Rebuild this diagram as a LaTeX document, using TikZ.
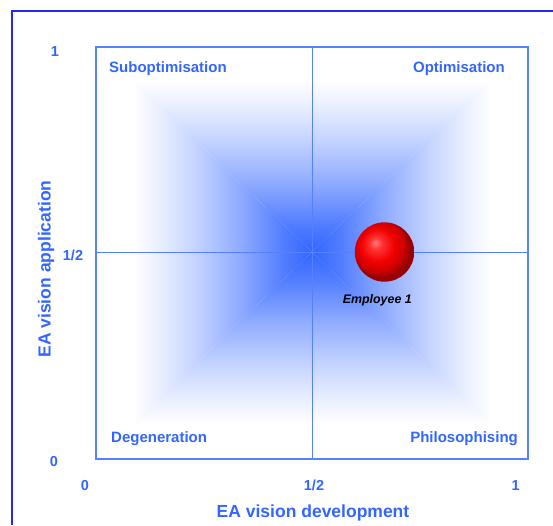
\documentclass[tikz,border=0pt]{standalone}
\usepackage{fontspec}
\setmainfont{Liberation Sans}
\usepackage{tikz}

\definecolor{eablue}{RGB}{51,102,255}
\definecolor{ealine}{RGB}{85,128,255}
\definecolor{eaframe}{RGB}{40,40,235}

\pgfdeclareverticalshading{eafade}{100bp}{color(0bp)=(eablue); color(25bp)=(eablue);
  color(33bp)=(eablue!85!white); color(45bp)=(eablue!55!white); color(58bp)=(eablue!28!white);
  color(68bp)=(eablue!10!white); color(75bp)=(white); color(100bp)=(white)}
\pgfdeclareradialshading{redball}{\pgfpoint{-8bp}{8bp}}{color(0bp)=(red!50!white);
  color(5bp)=(red!80!white); color(14bp)=(red!95!black); color(21bp)=(red!80!black);
  color(25bp)=(red!60!black); color(50bp)=(red!60!black)}

\begin{document}
\begin{tikzpicture}[x=1pt,y=1pt,inner sep=0pt,
  quad/.style={text=eablue,font=\fontsize{15}{18}\selectfont\bfseries},
  tick/.style={text=eablue,font=\fontsize{14.5}{17}\selectfont\bfseries,anchor=base},
  axis/.style={text=eablue,font=\fontsize{17.5}{21}\selectfont\bfseries,anchor=base}]
\useasboundingbox (0,0) rectangle (553,525);
\coordinate (fb) at (12,0);
\coordinate (fc) at (12,514);
\coordinate (fr) at (553,514);
\coordinate (sw) at (96,66);
\coordinate (ne) at (528,478);
\coordinate (mid) at (312,273);
\coordinate (gsw) at (133,101);
\coordinate (gse) at (491,101);
\coordinate (gne) at (491,445);
\coordinate (gnw) at (133,445);
% pyramid fade
\shade[shading=eafade] (mid) -- (gnw) -- (gne) -- cycle;
\shade[shading=eafade,shading angle=180] (mid) -- (gsw) -- (gse) -- cycle;
\shade[shading=eafade,shading angle=90] (mid) -- (gsw) -- (gnw) -- cycle;
\shade[shading=eafade,shading angle=270] (mid) -- (gse) -- (gne) -- cycle;
% frame and quadrants
\draw[eaframe,line width=1.5pt] (fb) -- (fc) -- (fr);
\draw[ealine,line width=1.4pt] (sw) rectangle (ne);
\draw[ealine,line width=0.9pt] (sw -| mid) -- (ne -| mid);
\draw[ealine,line width=0.9pt] (sw |- mid) -- (ne |- mid);
\node (sub) at (109,452.6) [quad,anchor=base west] {Suboptimisation};
\node (opt) at (505,452.6) [quad,anchor=base east] {Optimisation};
\node (deg) at (111,82.6) [quad,anchor=base west] {Degeneration};
\node (phi) at (518,82.6) [quad,anchor=base east] {Philosophising};
% scales
\node (y1) at (55,468.5) [tick] {1};
\node (yh) at (73,265) [tick] {1/2};
\node (y0) at (54,59) [tick] {0};
\node (x0) at (85,34.5) [tick] {0};
\node (xh) at (314,34.5) [tick] {1/2};
\node (x1) at (515.7,34.5) [tick] {1};
\node (xlab) at (313,8) [axis] {EA vision development};
\node (ylab) at (50.7,256) [axis,rotate=90] {EA vision application};
% employee
\node (emp) at (384.5,273) [circle,minimum size=59.4pt,shade,shading=redball] {};
\node (emplab) at (377.3,221.8) [anchor=base,font=\fontsize{12.4}{15}\selectfont\bfseries\itshape] {Employee 1};
\end{tikzpicture}
\end{document}
